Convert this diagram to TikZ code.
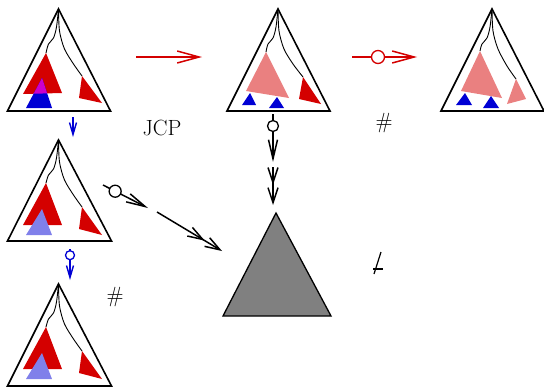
\documentclass[tikz,border=0pt]{standalone}
\usepackage{amsmath,amssymb}
\usepackage{xcolor}
\usepackage{tikz}
\usetikzlibrary{arrows.meta}

\definecolor{tred}{RGB}{212,0,0}
\definecolor{tblue}{RGB}{0,0,212}
\definecolor{tmix}{RGB}{204,0,204}

\begin{document}
\begin{tikzpicture}[x=1pt,y=-1pt]
\tikzstyle{every node}+=[inner sep=0pt]
\tikzstyle{outer}=[black,line width=1.6pt,line join=miter]
\tikzstyle{branch}=[black,line width=0.9pt]
\tikzstyle{lab}=[font=\fontsize{22}{26}\selectfont]
\tikzstyle{bigarr}=[line width=1.5pt,-{Straight Barb[length=22pt,width=12pt]}]
\tikzstyle{smallarr}=[line width=1.4pt,-{Straight Barb[length=12pt,width=7pt]}]
\tikzstyle{midarr}=[line width=1.5pt,-{Straight Barb[length=19pt,width=9pt]}]
\tikzstyle{dblarr}=[line width=1.5pt,-{Straight Barb[length=15pt,width=10pt,sep=2pt]Straight Barb[length=15pt,width=10pt]}]
\tikzstyle{ring}=[circle,draw,fill=white,line width=1.3pt]
\useasboundingbox (0,0) rectangle (544,388);

% first tree
\begin{scope}[shift={(58.5,9)}]
\fill [tred] (-12.5,44) -- (-35.5,85) -- (3.5,84) -- cycle;
\fill [tblue] (-16.5,69) -- (-32.5,99) -- (-6.5,99) -- cycle;
\begin{scope}
\clip (-12.5,44) -- (-35.5,85) -- (3.5,84) -- cycle;
\fill [tmix] (-16.5,69) -- (-32.5,99) -- (-6.5,99) -- cycle;
\end{scope}
\fill [tred] (23.5,67) -- (20.5,89) -- (43.5,94) -- cycle;
\draw [branch] plot[smooth] coordinates {(0,0) (-2,18) (-5,29) (-10,35) (-12.5,44)};
\draw [branch] plot[smooth] coordinates {(0,0) (1,22) (6,40) (15,55) (23.5,67)};
\draw [outer] (0,0) -- (-51,102) -- (52,102) -- cycle;
\end{scope}

% second tree
\begin{scope}[shift={(278,9)}]
\fill [tred!50] (-12,43) -- (-32,82) -- (11,89) -- cycle;
\fill [tblue] (-28,84) -- (-36,96) -- (-22,96) -- cycle;
\fill [tblue] (-1,88) -- (-9,99) -- (6,99) -- cycle;
\fill [tred] (25,68) -- (21,90) -- (43,95) -- cycle;
\draw [branch] plot[smooth] coordinates {(0,0) (-2,18) (-5,29) (-10,35) (-12,43)};
\draw [branch] plot[smooth] coordinates {(0,0) (1,22) (6,40) (15,55) (25,68)};
\draw [outer] (0,0) -- (-51,102) -- (52,102) -- cycle;
\end{scope}

% third tree
\begin{scope}[shift={(492,9)}]
\fill [tred!50] (-12,42) -- (-31,82) -- (10,89) -- cycle;
\fill [tblue] (-27,84) -- (-36,96) -- (-20,96) -- cycle;
\fill [tblue] (-1,87) -- (-9,99) -- (7,99) -- cycle;
\fill [tred!50] (24,70) -- (15,95) -- (34,90) -- cycle;
\draw [branch] plot[smooth] coordinates {(0,0) (-2,18) (-5,29) (-10,35) (-12,42)};
\draw [branch] plot[smooth] coordinates {(0,0) (1,22) (6,40) (15,57) (24,70)};
\draw [outer] (0,0) -- (-51,102) -- (52,102) -- cycle;
\end{scope}

% fourth tree
\begin{scope}[shift={(58.5,140)}]
\fill [tred] (-12.5,43) -- (-35.5,85) -- (3.5,85) -- cycle;
\fill [tblue!50] (-16.5,69) -- (-32.5,95) -- (-6.5,95) -- cycle;
\fill [tred] (23.5,67) -- (20.5,89) -- (43.5,95) -- cycle;
\draw [branch] plot[smooth] coordinates {(0,0) (-2,18) (-5,29) (-10,35) (-12.5,43)};
\draw [branch] plot[smooth] coordinates {(0,0) (1,22) (6,40) (15,55) (23.5,67)};
\draw [outer] (0,0) -- (-51,101) -- (53,101) -- cycle;
\end{scope}

% fifth tree
\begin{scope}[shift={(58.5,284)}]
\fill [tred] (-12.5,43) -- (-35.5,85) -- (3.5,85) -- cycle;
\fill [tblue!50] (-16.5,69) -- (-32.5,95) -- (-6.5,95) -- cycle;
\fill [tred] (23.5,67) -- (20.5,89) -- (43.5,95) -- cycle;
\draw [branch] plot[smooth] coordinates {(0,0) (-2,18) (-5,29) (-10,35) (-12.5,43)};
\draw [branch] plot[smooth] coordinates {(0,0) (1,22) (6,40) (15,55) (23.5,67)};
\draw [outer] (0,0) -- (-51,102) -- (53,102) -- cycle;
\end{scope}

% the grey one
\draw [black,line width=1.3pt,fill=gray] (276,213) -- (223,316) -- (331,316) -- cycle;

% arrow ends
\coordinate (r0) at (136,57);
\coordinate (r1) at (202,57);
\coordinate (s0) at (352,57);
\coordinate (s1) at (417,57);
\coordinate (b0) at (73,117);
\coordinate (b1) at (73,137);
\coordinate (c0) at (70,249);
\coordinate (c1) at (70,280);
\coordinate (v0) at (273,114);
\coordinate (v1) at (273,162);
\coordinate (w0) at (273,167);
\coordinate (w1) at (273,205);
\coordinate (d0) at (103,185);
\coordinate (d1) at (148,208);
\coordinate (e0) at (157,212);
\coordinate (e1) at (222,251);

\draw [bigarr,tred] (r0) -- (r1);
\draw [bigarr,tred] (s0) -- (s1) node[ring,draw=tred,pos=0.4,minimum size=13pt] (sring) {};
\draw [smallarr,tblue] (b0) -- (b1);
\draw [smallarr,tblue] (c0) -- (c1) node[ring,draw=tblue,pos=0.2,minimum size=9pt] (cring) {};
\draw [midarr] (v0) -- (v1) node[ring,pos=0.25,minimum size=11pt] (vring) {};
\draw [dblarr] (w0) -- (w1);
\draw [midarr] (d0) -- (d1) node[ring,pos=0.27,minimum size=12pt] (dring) {};
\draw [dblarr] (e0) -- (e1);

% labels
\node [lab] (jcp) at (162,128) {JCP};
\node [lab] (hashA) at (384,123) {\#};
\node [lab] (hashB) at (115,297) {\#};
\coordinate (clash) at (378,262);
\draw [line width=1.2pt] ([shift={(3,-10)}]clash) -- ([shift={(-4,12)}]clash);
\draw [line width=1.2pt] ([shift={(-5,7)}]clash) -- ([shift={(5,7)}]clash);
\end{tikzpicture}
\end{document}
